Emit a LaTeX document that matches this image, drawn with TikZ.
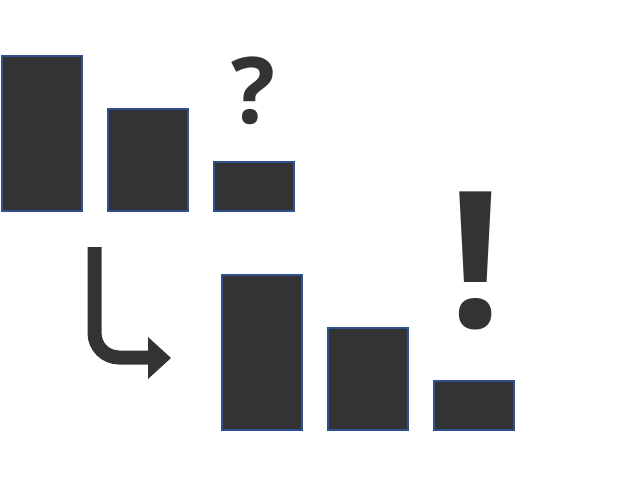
\documentclass[tikz,border=0pt]{standalone}
\usepackage{fontspec}
\newfontfamily\markfont{Open Sans}
\definecolor{barfill}{HTML}{333333}
\definecolor{barline}{HTML}{2F528F}

\begin{document}
\begin{tikzpicture}[x=1pt,y=-1pt,
	bar/.style={draw=barline, line width=2pt, fill=barfill, inner sep=0pt, anchor=north west},
	sign/.style={text=barfill, inner sep=0pt, anchor=south}]
	\useasboundingbox (0,0) rectangle (625,499);
	% first row of bars
	\node[bar, minimum width=80pt, minimum height=155pt] (a1) at (1,55) {};
	\node[bar, minimum width=80pt, minimum height=102pt] (a2) at (107,108) {};
	\node[bar, minimum width=80pt, minimum height=49pt] (a3) at (213,161) {};
	\node[sign, font=\markfont\bfseries\fontsize{92}{92}\selectfont] (q) at (253.5,125) {?};
	% bent arrow
	\draw[barfill, line width=14pt] (94.5,247) -- (94.5,333) arc[start angle=180, end angle=90, radius=24.5] -- (150,357.5);
	\fill[barfill] (148,337) -- (171,358) -- (148,379) -- cycle;
	% second row of bars
	\node[bar, minimum width=80pt, minimum height=155pt] (b1) at (221,274) {};
	\node[bar, minimum width=80pt, minimum height=102pt] (b2) at (327,327) {};
	\node[bar, minimum width=80pt, minimum height=49pt] (b3) at (433,380) {};
	\node[sign, font=\markfont\bfseries\fontsize{190}{190}\selectfont] (e) at (475.5,330) {!};
\end{tikzpicture}
\end{document}
